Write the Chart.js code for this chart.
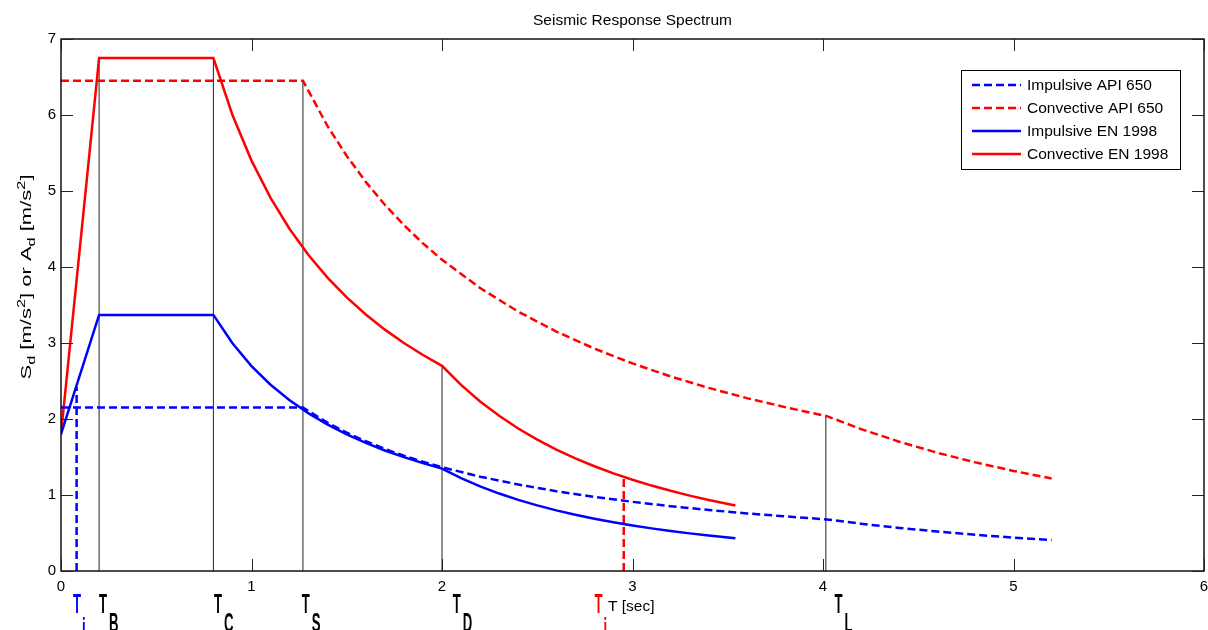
<!DOCTYPE html>
<html>
<head>
<meta charset="utf-8">
<script src="https://cdn.jsdelivr.net/npm/chart.js@4"></script>
<style>
  html, body { margin: 0; padding: 0; background: #fff; }
</style>
</head>
<body>
<canvas id="spectrum" width="1208" height="630"></canvas>
<script>
// periods T [sec] and spectral values [m/s2]
var apiPeriods    = [0, 1.27, 1.4, 1.5, 1.6, 1.7, 1.8, 1.9, 2.0, 2.2, 2.4, 2.6, 2.8, 3.0, 3.2, 3.4, 3.6, 3.8, 4.02, 4.2, 4.4, 4.6, 4.8, 5.0, 5.2];
var impulsiveAPI  = [2.15, 2.15, 1.95, 1.82, 1.707, 1.606, 1.517, 1.437, 1.365, 1.241, 1.138, 1.05, 0.975, 0.91, 0.853, 0.803, 0.758, 0.719, 0.679, 0.622, 0.567, 0.519, 0.477, 0.439, 0.406];
var convectiveAPI = [6.45, 6.45, 5.851, 5.461, 5.12, 4.819, 4.551, 4.311, 4.096, 3.723, 3.413, 3.151, 2.926, 2.731, 2.56, 2.409, 2.275, 2.156, 2.038, 1.867, 1.701, 1.556, 1.429, 1.317, 1.218];

var enPeriods     = [0, 0.2, 0.8, 0.9, 1.0, 1.1, 1.2, 1.3, 1.4, 1.5, 1.6, 1.7, 1.8, 1.9, 2.0, 2.1, 2.2, 2.3, 2.4, 2.5, 2.6, 2.7, 2.8, 2.9, 3.0, 3.1, 3.2, 3.3, 3.4, 3.54];
var impulsiveEN   = [1.8, 3.37, 3.37, 2.996, 2.696, 2.451, 2.247, 2.074, 1.926, 1.797, 1.685, 1.586, 1.498, 1.419, 1.348, 1.223, 1.114, 1.019, 0.936, 0.863, 0.798, 0.74, 0.688, 0.641, 0.599, 0.561, 0.527, 0.495, 0.466, 0.43];
var convectiveEN  = [1.8, 6.75, 6.75, 6.0, 5.4, 4.909, 4.5, 4.154, 3.857, 3.6, 3.375, 3.176, 3.0, 2.842, 2.7, 2.449, 2.231, 2.042, 1.875, 1.728, 1.598, 1.481, 1.378, 1.284, 1.2, 1.124, 1.055, 0.992, 0.934, 0.862];

// corner periods T_B, T_C, T_S, T_D, T_L and where their marker lines stop
var cornerNames   = ['B', 'C', 'S', 'D', 'L'];
var cornerPeriods = [0.2, 0.8, 1.27, 2.0, 4.015];
var cornerTops    = [6.75, 6.75, 6.45, 2.7, 2.04];

// tank periods T_i (impulsive, convective)
var tankPeriods   = [0.082, 2.954];
var tankTops      = [2.42, 1.24];

var xTicks = [0, 1, 2, 3, 4, 5, 6];
var yTicks = [0, 1, 2, 3, 4, 5, 6, 7];

var FONT = "'Liberation Sans', Arial, sans-serif";
var BLUE = '#0000ff', RED = '#ff0000';

function pairs(xs, ys) {
  return xs.map(function(x, i) { return { x: x, y: ys[i] }; });
}

var datasets = [
  { label: 'Impulsive API 650',  data: pairs(apiPeriods, impulsiveAPI),  borderColor: BLUE, borderDash: [8, 4] },
  { label: 'Convective API 650', data: pairs(apiPeriods, convectiveAPI), borderColor: RED,  borderDash: [8, 4] },
  { label: 'Impulsive EN 1998',  data: pairs(enPeriods, impulsiveEN),    borderColor: BLUE },
  { label: 'Convective EN 1998', data: pairs(enPeriods, convectiveEN),   borderColor: RED }
];
datasets.forEach(function(d) { d.borderWidth = 2.5; d.inLegend = true; });

// thin marker lines at the corner periods
cornerPeriods.forEach(function(t, i) {
  datasets.push({ label: 'T' + cornerNames[i], data: [{ x: t, y: 0 }, { x: t, y: cornerTops[i] }],
                  borderColor: '#222', borderWidth: 1, order: 5 });
});
// dashed marker lines at the tank periods
tankPeriods.forEach(function(t, i) {
  datasets.push({ label: 'Ti', data: [{ x: t, y: 0 }, { x: t, y: tankTops[i] }],
                  borderColor: i === 0 ? BLUE : RED, borderWidth: 2.5, borderDash: [8, 4] });
});
datasets.forEach(function(d) { d.showLine = true; d.pointRadius = 0; d.tension = 0; d.fill = false; });

// where the big T labels sit under the axis (left edge, in seconds)
var cornerLabelAt = [0.199, 0.803, 1.264, 2.057, 4.06];
var tankLabelAt   = [0.063, 2.80];

function condensed(ctx, txt, px, baseline, color) {
  ctx.save();
  ctx.translate(px, baseline);
  ctx.scale(0.47, 1);
  ctx.fillStyle = color;
  ctx.font = 'bold 28px ' + FONT;
  ctx.textAlign = 'left';
  ctx.textBaseline = 'alphabetic';
  ctx.fillText(txt, 0, 0);
  ctx.restore();
}

var decor = {
  id: 'decor',
  afterDraw: function(chart) {
    var ctx = chart.ctx, a = chart.chartArea;
    var xs = chart.scales.x, ys = chart.scales.y;

    // title
    ctx.save();
    ctx.fillStyle = '#000';
    ctx.font = '15.5px ' + FONT;
    ctx.textAlign = 'center';
    ctx.textBaseline = 'middle';
    ctx.fillText('Seismic Response Spectrum', (a.left + a.right) / 2, 21);
    ctx.restore();

    // axes box + inward ticks (matlab style)
    ctx.save();
    ctx.strokeStyle = '#000';
    ctx.lineWidth = 1.4;
    ctx.strokeRect(a.left, a.top, a.right - a.left, a.bottom - a.top);
    ctx.lineWidth = 1;
    ctx.strokeStyle = '#222';
    ctx.beginPath();
    xTicks.forEach(function(v) {
      var p = Math.round(xs.getPixelForValue(v)) + 0.5;
      ctx.moveTo(p, a.bottom); ctx.lineTo(p, a.bottom - 12);
      ctx.moveTo(p, a.top);    ctx.lineTo(p, a.top + 12);
    });
    yTicks.forEach(function(v) {
      var p = Math.round(ys.getPixelForValue(v)) + 0.5;
      ctx.moveTo(a.left, p);  ctx.lineTo(a.left + 12, p);
      ctx.moveTo(a.right, p); ctx.lineTo(a.right - 12, p);
    });
    ctx.stroke();
    ctx.restore();

    // y axis label with sub/superscripts, stretched to the length it has in the figure
    ctx.save();
    ctx.translate(31, 277);
    ctx.rotate(-Math.PI / 2);
    ctx.fillStyle = '#000';
    ctx.textBaseline = 'alphabetic';
    var parts = [['S', 0, 0], ['d', 4, 1], [' [m/s', 0, 0], ['2', -6, 1], ['] or A', 0, 0],
                 ['d', 4, 1], [' [m/s', 0, 0], ['2', -6, 1], [']', 0, 0]];
    var total = 0;
    parts.forEach(function(p) {
      ctx.font = (p[2] ? '11.5px ' : '15.5px ') + FONT;
      p.push(ctx.measureText(p[0]).width);
      total += p[3];
    });
    var stretch = 205 / total;
    ctx.scale(stretch, 1);
    var cx = -total / 2;
    parts.forEach(function(p) {
      ctx.font = (p[2] ? '11.5px ' : '15.5px ') + FONT;
      ctx.fillText(p[0], cx, p[1]);
      cx += p[3];
    });
    ctx.restore();

    // x axis label
    ctx.save();
    ctx.fillStyle = '#000';
    ctx.font = '15.5px ' + FONT;
    ctx.textBaseline = 'alphabetic';
    ctx.fillText('T [sec]', 608, 611);
    ctx.restore();

    // period names under the axis
    cornerNames.forEach(function(n, i) {
      var px = xs.getPixelForValue(cornerLabelAt[i]);
      condensed(ctx, 'T', px, 613, '#000');
      condensed(ctx, n, px + 10, 632, '#000');
    });
    tankLabelAt.forEach(function(t, i) {
      var px = xs.getPixelForValue(t);
      var col = i === 0 ? BLUE : RED;
      condensed(ctx, 'T', px, 613, col);
      condensed(ctx, 'i', px + 9, 637, col);
    });

    // legend box
    ctx.save();
    ctx.fillStyle = '#fff';
    ctx.fillRect(961, 70, 219, 99);
    ctx.strokeStyle = '#000';
    ctx.lineWidth = 1;
    ctx.strokeRect(961.5, 70.5, 219, 99);
    var rows = [85, 108, 131, 154];
    chart.data.datasets.filter(function(d) { return d.inLegend; }).forEach(function(d, i) {
      ctx.beginPath();
      ctx.strokeStyle = d.borderColor;
      ctx.lineWidth = 2.5;
      ctx.setLineDash(d.borderDash || []);
      ctx.moveTo(972, rows[i]);
      ctx.lineTo(1021, rows[i]);
      ctx.stroke();
      ctx.setLineDash([]);
      ctx.fillStyle = '#000';
      ctx.font = '15.5px ' + FONT;
      ctx.textBaseline = 'middle';
      ctx.fillText(d.label, 1027, rows[i] + 1);
    });
    ctx.restore();
  }
};

var chart = new Chart(document.getElementById('spectrum').getContext('2d'), {
  type: 'scatter',
  data: { datasets: datasets },
  options: {
    responsive: false,
    animation: false,
    devicePixelRatio: 1,
    layout: { padding: { top: 39, right: 4, left: 0, bottom: 0 } },
    plugins: { legend: { display: false }, title: { display: false }, tooltip: { enabled: false } },
    scales: {
      x: {
        type: 'linear', min: 0, max: 6,
        grid: { display: false, drawTicks: false },
        border: { display: false },
        ticks: { stepSize: 1, padding: 7, color: '#000', font: { family: FONT, size: 15 } },
        afterFit: function(s) { s.height = 59; s.paddingLeft = 0; s.paddingRight = 0; }
      },
      y: {
        type: 'linear', min: 0, max: 7,
        grid: { display: false, drawTicks: false },
        border: { display: false },
        ticks: { stepSize: 1, padding: 5, color: '#000', font: { family: FONT, size: 15 } },
        afterFit: function(s) { s.width = 61; s.paddingTop = 0; s.paddingBottom = 0; }
      }
    }
  },
  plugins: [decor]
});
</script>
</body>
</html>
